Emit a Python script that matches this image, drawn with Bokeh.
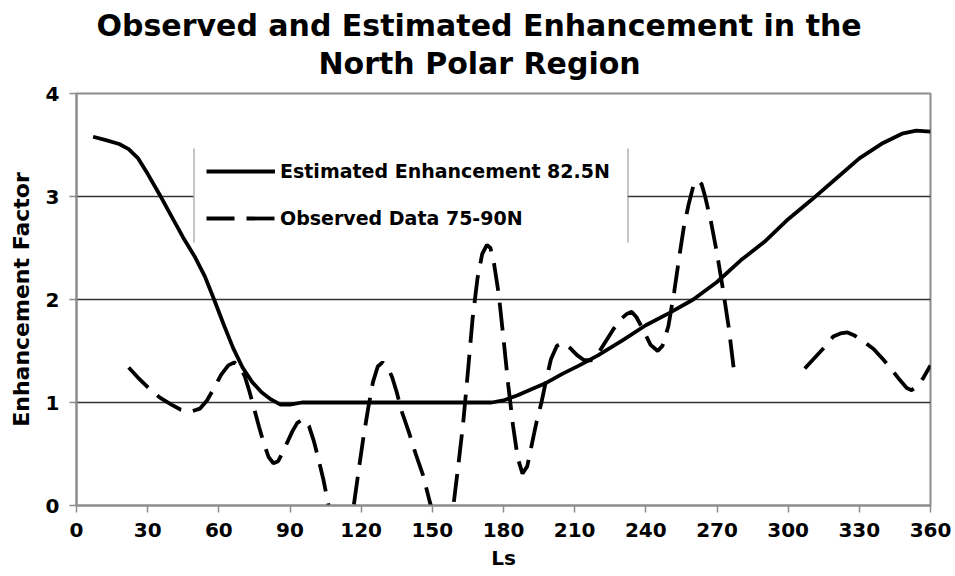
from bokeh.plotting import figure
from bokeh.models import (Range1d, FixedTicker, Legend, LegendItem, Title,
                          BoxAnnotation)
from bokeh.embed import file_html
from bokeh.resources import INLINE

# Estimated enhancement at 82.5N (solid curve)
ls_est = [7, 12, 18, 22, 26, 30, 35, 40, 45, 50, 54, 58, 62, 66, 70, 74, 78,
          82, 86, 90, 95, 100, 120, 140, 160, 175, 180, 186, 192, 198, 205,
          212, 220, 230, 240, 250, 260, 270, 280, 290, 300, 310, 320, 330,
          340, 348, 354, 360]
est = [3.58, 3.55, 3.51, 3.46, 3.37, 3.22, 3.02, 2.81, 2.60, 2.41, 2.23, 2.00,
       1.76, 1.53, 1.34, 1.20, 1.10, 1.03, 0.98, 0.98, 1.00, 1.00, 1.00, 1.00,
       1.00, 1.00, 1.02, 1.07, 1.13, 1.19, 1.28, 1.36, 1.46, 1.60, 1.75, 1.87,
       2.00, 2.17, 2.38, 2.56, 2.78, 2.97, 3.17, 3.37, 3.52, 3.61, 3.64, 3.63]

# Observed data 75-90N (dashed curve); NaN marks the gap without data
nan = float("nan")
ls_obs = [22, 26, 30, 35, 40, 44, 48, 52, 55, 58, 61, 64, 66.5, 69, 71, 73, 75,
          77, 79, 81, 83, 85, 87, 89, 91, 93, 95.5, 98, 100, 102, 104, 106,
          108, 111, 114, 117, 119, 121, 123, 125, 127, 129, 131, 133, 135, 137,
          140, 143, 146, 149, 152, 155, 157.5, 159, 161, 163, 165, 167, 169,
          171, 173, 174.5, 176, 178, 180, 182, 184, 186, 188, 190, 192, 194,
          196, 198, 200, 202.5, 205, 208, 211, 214, 217, 220, 223, 226, 229,
          232, 234, 236, 239, 242, 245, 247, 249.5, 252, 254, 256, 258, 260,
          262, 263.5, 265, 267.5, 270, 272.5, 275, 277, 292, 307, 311, 315,
          319, 322, 325, 328, 332, 336, 340, 344, 347, 350, 352, 354.5, 357,
          360]
obs = [1.34, 1.24, 1.15, 1.05, 0.98, 0.93, 0.91, 0.94, 1.02, 1.14, 1.27, 1.36,
       1.39, 1.35, 1.25, 1.10, 0.93, 0.76, 0.60, 0.47, 0.41, 0.43, 0.52, 0.62,
       0.72, 0.80, 0.84, 0.77, 0.63, 0.45, 0.26, 0.03, -0.20, -0.35, -0.20,
       0.02, 0.35, 0.67, 0.95, 1.20, 1.35, 1.39, 1.35, 1.25, 1.10, 0.92, 0.72,
       0.50, 0.30, 0.03, -0.20, -0.25, -0.10, 0.02, 0.40, 0.80, 1.30, 1.82,
       2.20, 2.44, 2.53, 2.50, 2.35, 2.05, 1.62, 1.17, 0.78, 0.46, 0.31, 0.38,
       0.60, 0.82, 1.00, 1.22, 1.42, 1.55, 1.58, 1.53, 1.46, 1.41, 1.41, 1.48,
       1.59, 1.70, 1.80, 1.86, 1.88, 1.83, 1.70, 1.56, 1.50, 1.55, 1.74, 2.08,
       2.40, 2.70, 2.92, 3.10, 3.16, 3.12, 3.00, 2.75, 2.45, 2.10, 1.72, 1.34,
       nan, 1.33, 1.43, 1.53, 1.64, 1.67, 1.68, 1.65, 1.59, 1.52, 1.42, 1.31,
       1.22, 1.14, 1.12, 1.16, 1.24, 1.36]

x_ticks = list(range(0, 361, 30))
y_ticks = [0, 1, 2, 3, 4]
grid_ticks = [1, 2, 3]

title_lines = ["Observed and Estimated Enhancement in the", "North Polar Region"]
FONT = "DejaVu Sans"
GRAY = "#8c8c8c"

p = figure(width=955, height=576, x_range=Range1d(0, 360), y_range=Range1d(0, 4),
           output_backend="svg", toolbar_location=None,
           min_border_left=76, min_border_right=25, min_border_top=93,
           min_border_bottom=71)
p.background_fill_color = "white"
p.border_fill_color = "white"
p.outline_line_color = GRAY
p.outline_line_width = 2

p.xgrid.visible = False
p.ygrid.ticker = FixedTicker(ticks=grid_ticks)
p.ygrid.grid_line_color = "#333333"
p.ygrid.grid_line_width = 1.5

for ax in (p.xaxis[0], p.yaxis[0]):
    ax.axis_line_color = GRAY
    ax.axis_line_width = 2
    ax.major_tick_line_color = GRAY
    ax.major_tick_line_width = 1.5
    ax.major_tick_in = 0
    ax.major_tick_out = 7
    ax.minor_tick_line_color = None
    ax.major_label_text_font = FONT
    ax.major_label_text_font_style = "bold"
    ax.major_label_text_font_size = "20px"
    ax.major_label_text_color = "black"
    ax.major_label_standoff = 10
    ax.axis_label_text_font = FONT
    ax.axis_label_text_font_style = "bold"
    ax.axis_label_text_color = "black"
    ax.axis_label_standoff = 6

p.xaxis.axis_label_text_font_size = "20px"
p.yaxis.axis_label_text_font_size = "22px"
p.yaxis.axis_label_standoff = 9
p.xaxis.ticker = FixedTicker(ticks=x_ticks)
p.yaxis.ticker = FixedTicker(ticks=y_ticks)
p.xaxis.axis_label = "Ls"
p.yaxis.axis_label = "Enhancement Factor"

r_est = p.line(ls_est, est, line_color="black", line_width=3.8)
r_obs = p.line(ls_obs, obs, line_color="black", line_width=3.8,
               line_dash="28 12")

# white legend panel with thin grey side rules
p.add_layout(BoxAnnotation(left=117, right=551, bottom=263, top=357,
                           left_units="screen", right_units="screen",
                           bottom_units="screen", top_units="screen",
                           fill_color="white", fill_alpha=1.0, line_color=None))
for left in (117, 551):
    p.add_layout(BoxAnnotation(left=left, right=left + 1, bottom=263, top=357,
                               left_units="screen", right_units="screen",
                               bottom_units="screen", top_units="screen",
                               fill_color=GRAY, fill_alpha=1.0, line_color=None))

legend = Legend(items=[LegendItem(label="Estimated Enhancement 82.5N", renderers=[r_est]),
                       LegendItem(label="Observed Data 75-90N", renderers=[r_obs])],
                location=(130, 276), margin=0, padding=13, spacing=25,
                glyph_width=69, glyph_height=20, label_standoff=5,
                border_line_color=None, background_fill_alpha=0.0,
                label_text_font=FONT, label_text_font_style="bold",
                label_text_font_size="19px", label_text_color="black")
p.add_layout(legend)

# two-line chart title; the lower line is added first so it sits nearest the frame
for text, offset, standoff in ((title_lines[1], 242, 26), (title_lines[0], 20, -24)):
    p.add_layout(Title(text=text, align="left", offset=offset, standoff=standoff,
                       text_font=FONT, text_font_style="bold",
                       text_font_size="30px", text_color="black"), "above")

open("out.html", "w").write(file_html(p, INLINE))
